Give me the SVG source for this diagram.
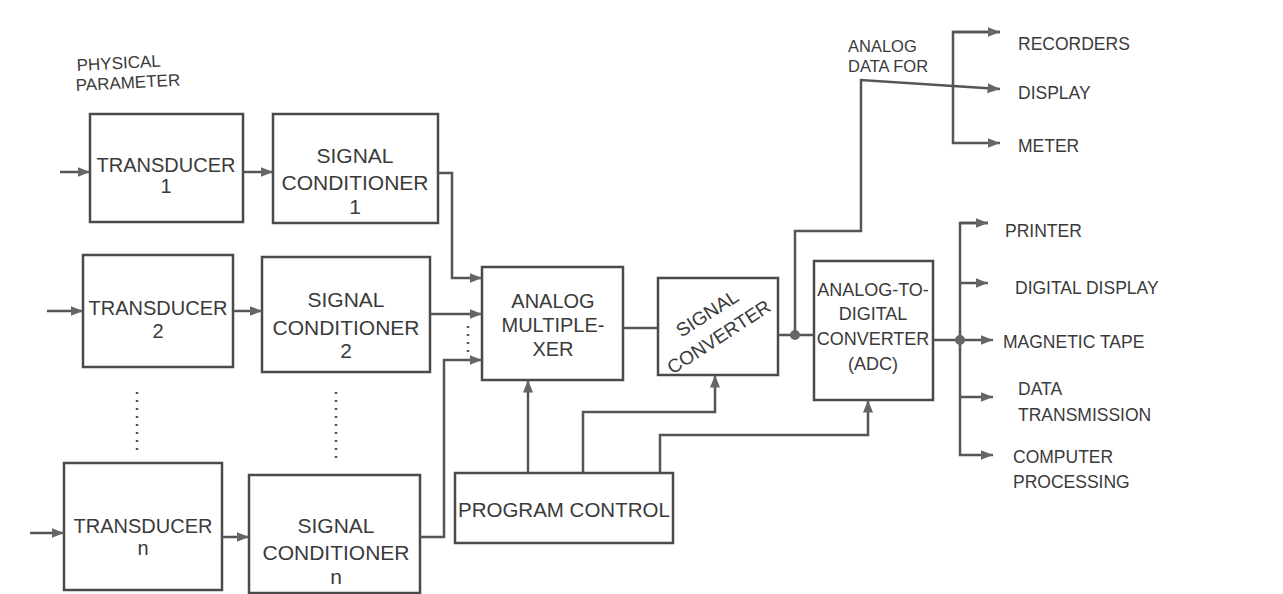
<svg xmlns="http://www.w3.org/2000/svg" width="1283" height="594" viewBox="0 0 1283 594">
<style>
.box{fill:#fff;stroke:#4a4a4a;stroke-width:2.5}
.ln{fill:none;stroke:#555;stroke-width:2.5}
.dot{fill:none;stroke:#555;stroke-width:2.5;stroke-dasharray:2 6}
text{font-family:"Liberation Sans",Arial,sans-serif;fill:#3a3a3a}
.t{font-size:20px;text-anchor:middle}
.c{font-size:21px;text-anchor:middle}
.s{font-size:17.5px}
.a{font-size:18px;text-anchor:middle}
</style>
<defs>
<marker id="ah" viewBox="0 0 10 10" refX="10" refY="5" markerWidth="5" markerHeight="5" orient="auto" markerUnits="strokeWidth">
<path d="M0,1 L10,5 L0,9 Z" fill="#666"/>
</marker>
</defs>
<rect width="1283" height="594" fill="#fff"/>
<g id="label-physical"><text x="77" y="71" transform="rotate(-3 77 71)" style="font-size:17px">PHYSICAL</text><text x="76" y="91" transform="rotate(-3 76 91)" style="font-size:17px">PARAMETER</text></g>
<g id="t1"><rect class="box" x="90" y="114" width="153" height="108"/><text class="t" x="166" y="172">TRANSDUCER</text><text class="t" x="166" y="193">1</text></g>
<g id="sc1"><rect class="box" x="273" y="114" width="165" height="109"/><text class="c" x="355" y="163">SIGNAL</text><text class="c" x="355" y="190">CONDITIONER</text><text class="c" x="355" y="214">1</text></g>
<g id="t2"><rect class="box" x="83" y="255" width="150" height="112"/><text class="t" x="158" y="315">TRANSDUCER</text><text class="t" x="158" y="338">2</text></g>
<g id="sc2"><rect class="box" x="262" y="257" width="168" height="115"/><text class="c" x="346" y="307">SIGNAL</text><text class="c" x="346" y="335">CONDITIONER</text><text class="c" x="346" y="358">2</text></g>
<g id="tn"><rect class="box" x="64" y="463" width="158" height="127"/><text class="t" x="143" y="533">TRANSDUCER</text><text class="t" x="143" y="555">n</text></g>
<g id="scn"><rect class="box" x="249" y="475" width="171" height="118"/><text class="c" x="336" y="533">SIGNAL</text><text class="c" x="336" y="560">CONDITIONER</text><text class="c" x="336" y="584">n</text></g>
<g id="mux"><rect class="box" x="482" y="267" width="141" height="113"/><text class="t" x="553" y="308">ANALOG</text><text class="t" x="553" y="332">MULTIPLE-</text><text class="t" x="553" y="356">XER</text></g>
<g id="sigconv"><rect class="box" x="658" y="278" width="120" height="97"/><g transform="translate(707,313) rotate(-33)"><text x="0" y="7" style="font-size:19px;text-anchor:middle">SIGNAL</text><text x="-3" y="33" style="font-size:19px;text-anchor:middle">CONVERTER</text></g></g>
<g id="adc"><rect class="box" x="814" y="261" width="119" height="139"/><text class="a" x="873" y="296">ANALOG-TO-</text><text class="a" x="873" y="320">DIGITAL</text><text class="a" x="873" y="345">CONVERTER</text><text class="a" x="873" y="370">(ADC)</text></g>
<g id="prog"><rect class="box" x="455" y="473" width="218" height="70"/><text x="458" y="517" style="font-size:20.5px">PROGRAM CONTROL</text></g>
<g id="outputs">
<text x="848" y="52" style="font-size:16.5px">ANALOG</text><text x="848" y="72" style="font-size:16.5px">DATA FOR</text>
<text class="s" x="1018" y="50">RECORDERS</text>
<text class="s" x="1018" y="99">DISPLAY</text>
<text class="s" x="1018" y="152">METER</text>
<text class="s" x="1005" y="237">PRINTER</text>
<text class="s" x="1015" y="294">DIGITAL DISPLAY</text>
<text class="s" x="1003" y="348">MAGNETIC TAPE</text>
<text class="s" x="1018" y="395">DATA</text><text class="s" x="1018" y="421">TRANSMISSION</text>
<text class="s" x="1013" y="463">COMPUTER</text><text class="s" x="1013" y="488">PROCESSING</text>
</g>
<g id="connectors">
<path class="ln" d="M60,172 H90" marker-end="url(#ah)"/>
<path class="ln" d="M243,172 H273" marker-end="url(#ah)"/>
<path class="ln" d="M438,173 H452 V278 H482" marker-end="url(#ah)"/>
<path class="ln" d="M47,311 H83" marker-end="url(#ah)"/>
<path class="ln" d="M233,311 H262" marker-end="url(#ah)"/>
<path class="ln" d="M430,314 H482" marker-end="url(#ah)"/>
<path class="ln" d="M30,533 H64" marker-end="url(#ah)"/>
<path class="ln" d="M222,537 H249" marker-end="url(#ah)"/>
<path class="ln" d="M420,537 H444 V360 H482" marker-end="url(#ah)"/>
<path class="dot" d="M137,392 V455"/>
<path class="dot" d="M336,392 V462"/>
<path class="dot" d="M468,326 V352"/>
<path class="ln" d="M623,328 H658"/>
<path class="ln" d="M778,335 H814"/>
<path class="ln" d="M795,335 V231 H861 V80 L953,86 L1000,89" marker-end="url(#ah)"/>
<path class="ln" d="M1000,32 H953 V143 H1000" marker-end="url(#ah)"/>
<path class="ln" d="M953,32 H1000" marker-end="url(#ah)"/>
<path class="ln" d="M933,340 H993" marker-end="url(#ah)"/>
<path class="ln" d="M988,223 H960 V455 H993" marker-end="url(#ah)"/>
<path class="ln" d="M960,223 H988" marker-end="url(#ah)"/>
<path class="ln" d="M960,283 H988" marker-end="url(#ah)"/>
<path class="ln" d="M960,397 H993" marker-end="url(#ah)"/>
<path class="ln" d="M528,473 V380" marker-end="url(#ah)"/>
<path class="ln" d="M583,473 V412 H715 V375" marker-end="url(#ah)"/>
<path class="ln" d="M660,473 V435 H868 V400" marker-end="url(#ah)"/>
<circle cx="795" cy="335" r="5" fill="#666"/>
<circle cx="960" cy="340" r="5" fill="#666"/>
</g>
</svg>
